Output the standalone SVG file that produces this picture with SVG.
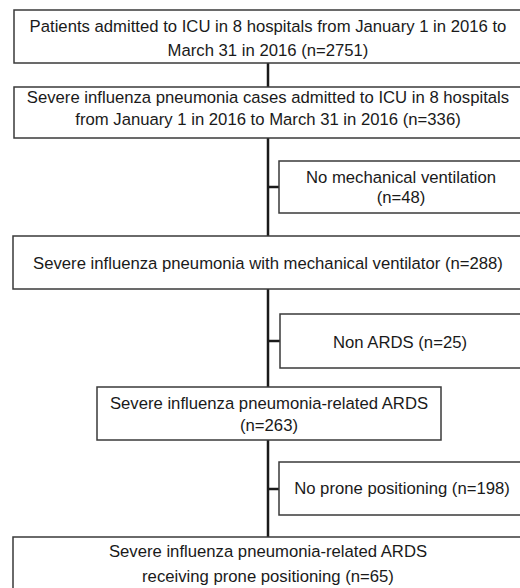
<svg xmlns="http://www.w3.org/2000/svg" width="520" height="588" viewBox="0 0 520 588">
<style>
.box{fill:#fff;stroke:#3a3a3a;stroke-width:1.5}
.t{font-family:"Liberation Sans",Arial,sans-serif;font-size:16.7px;fill:#1a1a1a;text-anchor:middle}
.c{stroke:#1a1a1a;stroke-width:2.5;fill:none}
</style>
<rect width="520" height="588" fill="#fff"/>
<g id="connectors">
<line class="c" x1="268" y1="63" x2="268" y2="537"/>
<line class="c" x1="268" y1="187" x2="280" y2="187"/>
<line class="c" x1="268" y1="341" x2="280" y2="341"/>
<line class="c" x1="268" y1="489" x2="280" y2="489"/>
</g>
<g id="n1"><rect class="box" x="14" y="10" width="510" height="53"/>
<text class="t" x="268" y="32">Patients admitted to ICU in 8 hospitals from January 1 in 2016 to</text>
<text class="t" x="268" y="56">March 31 in 2016 (n=2751)</text></g>
<g id="n2"><rect class="box" x="14" y="87" width="510" height="51"/>
<text class="t" x="268" y="103">Severe influenza pneumonia cases admitted to ICU in 8 hospitals</text>
<text class="t" x="268" y="125">from January 1 in 2016 to March 31 in 2016 (n=336)</text></g>
<g id="n3"><rect class="box" x="279" y="161" width="245" height="52"/>
<text class="t" x="401" y="183">No mechanical ventilation</text>
<text class="t" x="401" y="203">(n=48)</text></g>
<g id="n4"><rect class="box" x="13" y="236" width="511" height="53"/>
<text class="t" x="268" y="269">Severe influenza pneumonia with mechanical ventilator (n=288)</text></g>
<g id="n5"><rect class="box" x="280" y="314" width="244" height="54"/>
<text class="t" x="400" y="348">Non ARDS (n=25)</text></g>
<g id="n6"><rect class="box" x="97" y="387" width="344" height="53"/>
<text class="t" x="269" y="409">Severe influenza pneumonia-related ARDS</text>
<text class="t" x="269" y="431">(n=263)</text></g>
<g id="n7"><rect class="box" x="279" y="462" width="245" height="53"/>
<text class="t" x="402" y="494">No prone positioning (n=198)</text></g>
<g id="n8"><rect class="box" x="13" y="537" width="511" height="60"/>
<text class="t" x="268" y="557">Severe influenza pneumonia-related ARDS</text>
<text class="t" x="268" y="582">receiving prone positioning (n=65)</text></g>
</svg>
